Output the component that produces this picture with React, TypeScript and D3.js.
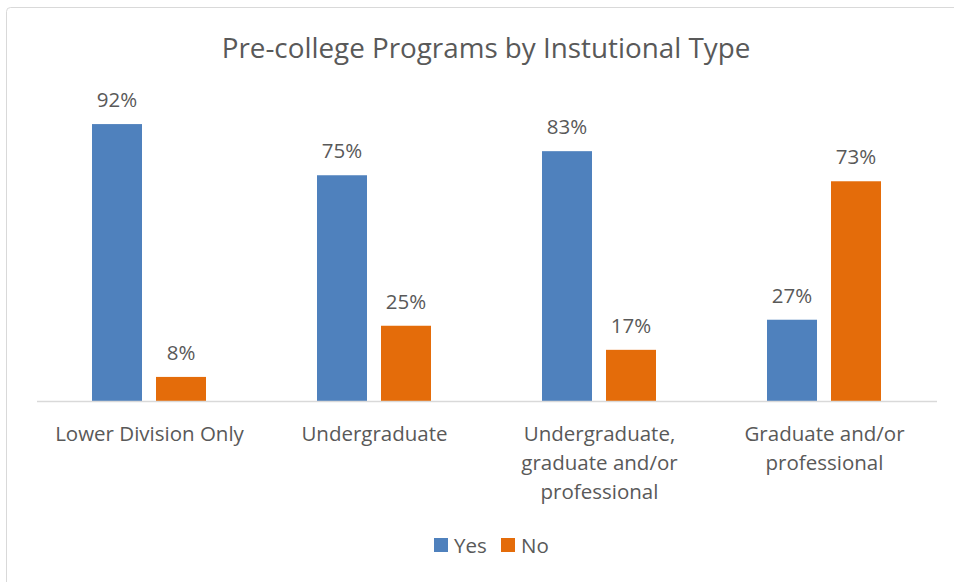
import React from "react";
import * as d3 from "d3";

const categories = [
  "Lower Division Only",
  "Undergraduate",
  "Undergraduate, graduate and/or professional",
  "Graduate and/or professional",
];
const categoryLines = [
  ["Lower Division Only"],
  ["Undergraduate"],
  ["Undergraduate,", "graduate and/or", "professional"],
  ["Graduate and/or", "professional"],
];
const seriesNames = ["Yes", "No"];
const yesValues = [92, 75, 83, 27];
const noValues = [8, 25, 17, 73];
const colors = ["#4F81BD", "#E46C0A"];
const title = "Pre-college Programs by Instutional Type";

const W = 954;
const H = 582;
const FONT = "'Open Sans', sans-serif";
const TEXT = "#595959";

export default function App() {
  const x0 = d3.scaleBand<string>().domain(categories).range([37, 937]).padding(0);
  const x1 = d3
    .scaleBand<string>()
    .domain(seriesNames)
    .range([55, 169])
    .paddingInner(14 / 64)
    .paddingOuter(0);
  const y = d3.scaleLinear().domain([0, 100]).range([401, 100]);
  const series = [yesValues, noValues];

  return (
    <svg
      width={W}
      height={H}
      style={{ position: "absolute", left: 0, top: 0, fontFamily: FONT }}
    >
      <rect x={0} y={0} width={W} height={H} fill="#fff" />
      <rect
        x={6.5}
        y={7.5}
        width={W + 20}
        height={H + 20}
        rx={4}
        fill="#fff"
        stroke="#d9d9d9"
        strokeWidth={1}
      />
      <text x={486} y={58} textAnchor="middle" fontSize={27.8} fill={TEXT}>
        {title}
      </text>
      {series.map((vals, si) =>
        categories.map((c, ci) => {
          const bx = (x0(c) as number) + (x1(seriesNames[si]) as number);
          const bw = x1.bandwidth();
          const v = vals[ci];
          return (
            <g key={`${si}-${ci}`}>
              <rect
                x={bx}
                y={y(v)}
                width={bw}
                height={y(0) - y(v)}
                fill={colors[si]}
              />
              <text
                x={bx + bw / 2}
                y={y(v) - 17}
                textAnchor="middle"
                fontSize={20.5}
                fill={TEXT}
              >
                {`${v}%`}
              </text>
            </g>
          );
        })
      )}
      <line x1={37} x2={937} y1={401.5} y2={401.5} stroke="#d9d9d9" strokeWidth={1.5} />
      {categories.map((c, ci) => (
        <text
          key={c}
          x={(x0(c) as number) + x0.bandwidth() / 2}
          y={441}
          textAnchor="middle"
          fontSize={20.5}
          fill={TEXT}
        >
          {categoryLines[ci].map((l, li) => (
            <tspan key={li} x={(x0(c) as number) + x0.bandwidth() / 2} dy={li === 0 ? 0 : 29}>
              {l}
            </tspan>
          ))}
        </text>
      ))}
      {seriesNames.map((s, si) => {
        const lx = si === 0 ? 434 : 501;
        return (
          <g key={s}>
            <rect x={lx} y={538} width={14} height={14} fill={colors[si]} />
            <text x={lx + 20} y={552.5} fontSize={20.5} fill={TEXT}>
              {s}
            </text>
          </g>
        );
      })}
    </svg>
  );
}
